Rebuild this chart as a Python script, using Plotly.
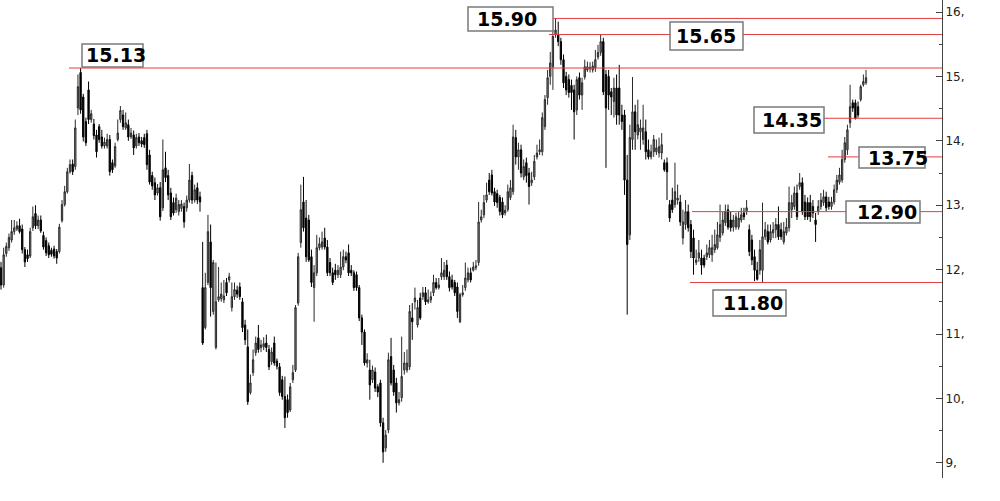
import plotly.graph_objects as go

# ---------------- data (prices) ----------------
opens_a = [12.03, 11.76, 12.25, 12.34, 12.46, 12.59, 12.63, 12.68, 12.63, 12.31, 12.23, 12.21, 12.65, 12.87, 12.68, 12.77, 12.53, 12.45, 12.37, 12.30, 12.32, 12.28, 12.28, 12.76, 13.01, 13.21, 13.52, 13.64, 13.60, 14.51, 15.06,
           14.68, 14.30, 14.79, 14.33, 14.26, 14.09, 14.22, 14.06, 13.92, 13.92, 14.02, 13.66, 13.61, 14.02, 14.33, 14.40, 14.20, 14.25, 14.06, 14.09, 13.92, 14.06, 14.00, 14.05, 14.11,
           13.78, 13.46, 13.35, 13.19, 13.27, 12.96, 13.58, 13.46, 13.19, 13.04, 12.93, 12.90, 12.95, 12.98, 12.96, 13.08, 13.46, 13.08, 13.27, 13.13]
highs_a = [12.12, 12.34, 12.42, 12.56, 12.77, 12.77, 12.75, 12.79, 12.70, 12.35, 12.31, 12.65, 12.98, 13.00, 12.84, 12.84, 12.59, 12.50, 12.42, 12.34, 12.37, 12.32, 12.71, 13.08, 13.30, 13.58, 13.71, 13.71, 14.33, 15.03, 15.13,
           14.73, 14.36, 14.92, 14.48, 14.34, 14.17, 14.26, 14.17, 14.05, 14.11, 14.09, 13.71, 13.97, 14.33, 14.54, 14.48, 14.44, 14.33, 14.20, 14.16, 14.11, 14.12, 14.06, 14.11, 14.17,
           13.86, 13.52, 13.43, 13.33, 13.36, 14.02, 13.83, 13.55, 13.27, 13.12, 13.18, 13.08, 13.08, 13.04, 13.15, 13.64, 13.52, 13.32, 13.35, 13.21]
lows_a = [11.69, 11.72, 12.20, 12.29, 12.42, 12.54, 12.60, 12.56, 12.25, 12.04, 12.12, 12.18, 12.60, 12.63, 12.63, 12.57, 12.31, 12.21, 12.18, 12.20, 12.17, 12.09, 12.25, 12.73, 12.98, 13.18, 13.49, 13.47, 13.55, 14.40, 14.42,
          13.99, 13.92, 14.26, 14.28, 14.02, 13.74, 13.97, 13.88, 13.88, 13.88, 13.46, 13.50, 13.58, 13.99, 14.28, 14.17, 14.17, 14.00, 14.03, 13.78, 13.88, 13.92, 13.90, 13.89, 13.55,
          13.32, 13.24, 13.08, 13.15, 12.76, 12.91, 13.36, 13.08, 12.77, 12.84, 12.88, 12.84, 12.90, 12.65, 12.90, 13.04, 13.02, 13.04, 13.02, 12.90]
closes_a = [11.76, 12.23, 12.36, 12.50, 12.59, 12.65, 12.68, 12.59, 12.31, 12.12, 12.17, 12.59, 12.82, 12.68, 12.77, 12.60, 12.35, 12.26, 12.23, 12.24, 12.21, 12.18, 12.66, 13.01, 13.21, 13.52, 13.63, 13.52, 14.20, 14.84, 14.48,
            14.06, 13.97, 14.33, 14.42, 14.08, 13.83, 14.02, 13.92, 13.98, 14.02, 13.52, 13.55, 13.91, 14.12, 14.47, 14.22, 14.28, 14.06, 14.12, 13.89, 14.05, 13.97, 13.95, 13.94, 13.63,
            13.36, 13.30, 13.16, 13.27, 12.82, 13.55, 13.43, 13.16, 12.82, 12.88, 13.11, 13.01, 13.02, 12.74, 13.08, 13.39, 13.08, 13.24, 13.08, 13.05]

opens_b = [11.72, 11.10, 11.80, 12.43, 11.35, 10.79, 11.53, 11.55, 11.53, 11.80, 11.84, 11.41, 11.58, 11.68, 11.73, 11.50, 11.14, 10.80, 10.09, 10.40,
           10.71, 10.94, 10.79, 10.80, 10.86, 10.76, 10.57, 10.86, 10.58, 10.49, 10.29, 10.03, 9.98, 9.82, 10.29, 10.44, 11.48, 12.42, 13.05, 12.80,
           12.77, 12.20, 11.72, 11.95, 12.34, 12.35, 12.49, 12.35, 12.11, 11.95, 11.99, 11.92, 11.92, 12.04, 12.20, 12.26, 11.99, 11.95, 11.92, 11.72,
           11.25, 11.03, 10.55, 10.44, 10.29, 10.41, 10.18, 10.24, 9.62]
highs_b = [12.43, 11.95, 12.85, 12.70, 12.15, 12.11, 12.04, 11.80, 11.84, 11.87, 11.95, 11.80, 11.80, 11.75, 11.80, 11.56, 11.22, 11.07, 10.37, 10.76,
           10.96, 11.14, 10.91, 10.95, 10.99, 10.83, 10.79, 10.96, 10.62, 10.55, 10.35, 10.34, 10.06, 10.24, 10.52, 11.45, 12.26, 13.32, 13.44, 13.08,
           12.85, 12.31, 12.07, 12.54, 12.50, 12.59, 12.65, 12.46, 12.18, 12.03, 12.09, 12.07, 12.28, 12.31, 12.28, 12.39, 12.07, 11.99, 11.97, 11.76,
           11.30, 11.07, 10.70, 10.60, 10.51, 10.48, 10.22, 10.29, 9.70]
lows_b = [10.83, 11.07, 11.76, 11.27, 11.30, 10.76, 11.50, 11.50, 11.48, 11.59, 11.80, 11.35, 11.53, 11.56, 11.53, 11.03, 10.83, 9.90, 10.06, 10.35,
          10.66, 10.71, 10.72, 10.75, 10.72, 10.44, 10.52, 10.51, 10.45, 10.04, 9.98, 9.54, 9.70, 9.79, 10.24, 10.41, 11.44, 12.34, 12.59, 12.12,
          12.12, 11.73, 11.19, 11.90, 12.30, 12.31, 12.31, 11.90, 11.90, 11.76, 11.84, 11.87, 11.87, 11.99, 12.10, 11.90, 11.90, 11.67, 11.67, 11.20,
          10.83, 10.51, 10.48, 9.98, 10.24, 10.10, 10.02, 9.56, 9.00]
closes_b = [10.86, 11.72, 12.59, 11.72, 12.11, 11.50, 11.58, 11.62, 11.59, 11.64, 11.89, 11.58, 11.69, 11.62, 11.58, 11.10, 10.91, 9.95, 10.24, 10.60,
            10.86, 10.76, 10.83, 10.85, 10.79, 10.49, 10.72, 10.55, 10.50, 10.09, 10.03, 9.70, 9.78, 10.18, 10.40, 11.41, 12.20, 12.93, 12.65, 12.20,
            12.15, 11.80, 11.95, 12.34, 12.40, 12.43, 12.35, 11.95, 11.95, 11.80, 11.92, 11.99, 12.04, 12.20, 12.15, 11.95, 11.95, 11.72, 11.72, 11.25,
            11.03, 10.55, 10.60, 10.21, 10.44, 10.16, 10.10, 9.62, 9.17]

opens_c = [9.23, 9.51, 10.65, 10.44, 10.24, 9.93, 10.01, 10.44, 10.44, 10.49, 11.25, 11.50, 11.14, 11.56, 11.58, 11.64, 11.50, 11.53, 11.64, 11.80,
           11.72, 11.89, 11.89, 12.07, 11.89, 11.84, 11.80, 11.73, 11.19, 11.61, 11.72, 11.84, 11.95, 11.99, 12.03, 12.11, 12.77, 12.85, 13.08, 13.39,
           13.47, 13.21, 13.18, 13.12, 13.05, 12.88, 12.93, 13.12, 13.21, 14.05, 13.75, 13.86, 13.44, 13.66, 13.50, 13.35, 13.44, 13.75, 13.83, 13.83,
           14.22, 14.67, 15.00, 15.15, 15.65,
           15.65, 15.54, 15.26, 15.00, 14.95, 14.86, 14.79, 14.48, 14.98, 14.71, 14.99, 15.10, 15.12, 15.10, 15.13, 15.30, 15.37, 15.54, 15.03, 15.00,
           14.76, 14.61, 14.82, 14.82, 14.40, 14.40, 13.39]
highs_c = [9.51, 10.71, 10.94, 10.52, 10.32, 10.10, 10.96, 10.72, 10.76, 11.45, 11.48, 11.72, 11.53, 11.64, 11.73, 11.73, 11.69, 11.66, 11.92, 11.87,
           11.87, 12.18, 12.12, 12.15, 11.97, 11.92, 11.84, 11.80, 11.64, 11.76, 12.11, 12.03, 12.03, 12.12, 12.15, 13.05, 12.93, 13.16, 13.35, 13.50,
           13.55, 13.27, 13.24, 13.16, 13.12, 13.00, 13.32, 13.39, 14.25, 14.17, 13.97, 13.94, 13.71, 13.74, 13.58, 13.52, 13.78, 13.94, 14.02, 14.44,
           14.71, 15.10, 15.38, 15.72, 15.90,
           15.85, 15.60, 15.34, 15.07, 15.03, 14.95, 14.87, 15.00, 15.06, 14.98, 15.26, 15.23, 15.22, 15.23, 15.41, 15.49, 15.65, 15.60, 15.10, 15.10,
           14.82, 14.98, 15.03, 15.18, 14.56, 14.48, 13.78]
lows_c = [9.17, 9.46, 10.20, 10.04, 9.78, 9.89, 9.95, 10.37, 10.40, 10.44, 10.91, 11.38, 11.10, 11.22, 11.53, 11.45, 11.47, 11.48, 11.59, 11.69,
          11.69, 11.84, 11.84, 11.84, 11.66, 11.69, 11.59, 11.25, 11.17, 11.58, 11.67, 11.80, 11.80, 11.97, 11.99, 12.06, 12.73, 12.80, 13.04, 13.16,
          13.15, 12.99, 12.96, 12.84, 12.80, 12.84, 12.90, 13.08, 13.16, 13.63, 13.55, 13.43, 13.39, 13.35, 13.01, 13.30, 13.39, 13.71, 13.78, 13.77,
          14.17, 14.56, 14.87, 14.79, 15.60,
          15.47, 15.18, 14.82, 14.71, 14.67, 14.48, 14.02, 14.40, 14.64, 14.48, 14.95, 15.07, 15.06, 15.06, 15.07, 15.26, 15.32, 14.71, 13.58, 14.48,
          14.40, 14.36, 14.25, 14.25, 14.17, 13.16, 11.30]
closes_c = [9.43, 10.60, 10.24, 10.10, 9.93, 9.98, 10.34, 10.55, 10.55, 11.35, 11.19, 11.56, 11.41, 11.25, 11.64, 11.50, 11.53, 11.58, 11.80, 11.72,
            11.76, 11.95, 11.99, 11.89, 11.72, 11.73, 11.64, 11.35, 11.61, 11.64, 11.87, 11.95, 11.84, 12.04, 12.06, 12.74, 12.82, 13.04, 13.16, 13.21,
            13.19, 13.05, 13.04, 12.90, 12.85, 12.92, 13.21, 13.27, 14.06, 13.75, 13.86, 13.50, 13.60, 13.46, 13.29, 13.39, 13.68, 13.81, 13.86, 14.36,
            14.64, 14.98, 15.21, 15.62, 15.72,
            15.54, 15.26, 14.90, 14.79, 14.75, 14.75, 14.45, 14.95, 14.71, 14.90, 15.15, 15.15, 15.14, 15.16, 15.26, 15.37, 15.54, 14.76, 14.51, 14.71,
            14.68, 14.82, 14.40, 14.40, 14.30, 13.39, 12.39]

opens_d = [12.54, 14.02, 14.45, 14.09, 14.14, 14.02, 14.14, 13.86, 13.75, 13.83, 13.83, 13.81, 13.81, 13.66, 13.66, 13.01, 13.08, 13.01, 13.08, 13.05,
           12.49, 12.70, 12.90, 12.70, 12.49, 12.11, 12.18, 12.18, 12.18, 12.20, 12.23, 12.23, 12.31, 12.34, 12.50, 12.57, 12.73, 12.93, 12.77, 12.66,
           12.66, 12.66, 12.77, 12.88, 12.90, 12.62, 12.46, 12.20, 11.99, 11.99, 11.99,
           12.51, 12.59, 12.46, 12.57, 12.62, 12.70, 12.62, 12.43, 12.57, 12.65, 12.93, 12.98, 13.19, 13.29, 13.35, 13.05, 13.04, 13.04,
           12.98, 12.77, 12.90, 12.98, 13.04, 13.13, 13.05, 12.98, 13.05, 13.24, 13.36, 13.39, 13.71, 13.86, 14.28, 14.59, 14.59, 14.53, 14.64, 14.87, 14.90]
highs_d = [14.25, 14.99, 14.56, 14.64, 14.33, 14.56, 14.33, 14.02, 13.94, 14.09, 14.02, 14.05, 14.12, 13.71, 13.74, 13.08, 13.27, 13.66, 13.32, 13.16,
           12.93, 13.08, 13.01, 12.77, 12.62, 12.31, 12.46, 12.31, 12.23, 12.39, 12.46, 12.54, 12.62, 12.74, 13.01, 12.90, 13.01, 13.01, 12.90, 12.85,
           12.88, 12.90, 12.96, 12.96, 13.08, 12.70, 12.54, 12.31, 12.12, 12.46, 13.04,
           12.74, 12.70, 12.70, 12.74, 12.80, 12.98, 12.73, 12.74, 12.80, 13.29, 13.16, 13.29, 13.32, 13.50, 13.43, 13.16, 13.12, 13.16,
           13.08, 12.88, 13.08, 13.19, 13.24, 13.21, 13.13, 13.13, 13.32, 13.47, 13.58, 13.86, 14.06, 14.25, 14.87, 14.64, 14.64, 14.61, 14.87, 15.03, 15.10]
lows_d = [12.46, 13.86, 13.86, 14.02, 13.86, 13.94, 13.71, 13.71, 13.71, 13.75, 13.78, 13.74, 13.71, 13.52, 13.08, 12.74, 12.88, 12.96, 13.01, 12.68,
          12.39, 12.62, 12.59, 12.18, 11.92, 12.07, 12.12, 11.92, 12.03, 12.15, 12.18, 12.12, 12.26, 12.31, 12.43, 12.53, 12.68, 12.62, 12.59, 12.59,
          12.62, 12.62, 12.73, 12.77, 12.85, 12.21, 12.07, 11.82, 11.83, 11.92, 11.80,
          12.46, 12.39, 12.42, 12.49, 12.49, 12.46, 12.46, 12.39, 12.53, 12.59, 12.80, 12.93, 12.77, 13.24, 12.85, 12.77, 12.77, 12.74,
          12.80, 12.43, 12.85, 12.93, 12.99, 12.91, 12.93, 12.93, 13.01, 13.19, 13.32, 13.35, 13.66, 13.78, 14.20, 14.45, 14.33, 14.36, 14.61, 14.84, 14.87]
closes_d = [14.05, 14.45, 14.14, 14.25, 14.20, 14.20, 13.83, 13.75, 13.83, 14.02, 13.89, 13.91, 13.94, 13.55, 13.52, 12.80, 12.93, 13.21, 13.11, 12.74,
            12.74, 12.90, 12.65, 12.28, 12.18, 12.15, 12.26, 12.07, 12.07, 12.26, 12.34, 12.34, 12.39, 12.54, 12.70, 12.77, 12.90, 12.66, 12.65, 12.77,
            12.82, 12.80, 12.85, 12.82, 12.96, 12.28, 12.15, 11.99, 11.85, 12.31, 12.51,
            12.62, 12.43, 12.59, 12.62, 12.70, 12.51, 12.51, 12.59, 12.66, 13.04, 13.04, 13.19, 12.82, 13.35, 12.90, 12.82, 12.82, 12.82,
            12.88, 12.70, 12.98, 13.08, 13.13, 12.96, 12.98, 13.05, 13.24, 13.39, 13.47, 13.71, 13.97, 14.17, 14.53, 14.51, 14.35, 14.40, 14.84, 14.92, 14.98]

opens = opens_a + opens_b + opens_c + opens_d
highs = highs_a + highs_b + highs_c + highs_d
lows = lows_a + lows_b + lows_c + lows_d
closes = closes_a + closes_b + closes_c + closes_d
sessions = list(range(len(closes)))

levels = [15.90, 15.65, 15.13, 14.35, 13.75, 12.90, 11.80]
level_labels = ["15.90", "15.65", "15.13", "14.35", "13.75", "12.90", "11.80"]
y_ticks = [9, 10, 11, 12, 13, 14, 15, 16]

# ---------------- layout helpers (pixel geometry of the plot area) ----------------
PW, PH = 942.0, 478.0
STEP = 865.0 / (len(closes) - 1)   # pixels per session
def px(x):
    return x / PW
def py(y):
    return 1 - y / PH

# where each level line starts (px), label box (left, top, w, h) and text left (px)
line_start = [553, 549, 69, 824, 828, 692, 690]
boxes = [(468, 7, 85, 24), (670, 22, 73, 28), (82, 44, 61, 23), (754, 107, 70, 26),
         (859, 147, 66, 21), (846, 201, 74, 22), (713, 290, 73, 26)]
text_left = [475, 674, 84, 760, 866, 855, 721]

fig = go.Figure()
fig.add_trace(go.Candlestick(
    x=sessions, open=opens, high=highs, low=lows, close=closes,
    increasing=dict(line=dict(color="#2a2a2a", width=1), fillcolor="#8c8c8c"),
    decreasing=dict(line=dict(color="#000000", width=1), fillcolor="#000000"),
    whiskerwidth=0, hoverinfo="skip", showlegend=False,
))

shapes = []
for lv, xs in zip(levels, line_start):
    shapes.append(dict(type="line", xref="paper", yref="y", x0=px(xs), x1=1, y0=lv, y1=lv,
                       line=dict(color="#e43d3d", width=1), layer="above"))
for (bl, bt, bw, bh) in boxes:
    shapes.append(dict(type="rect", xref="paper", yref="paper",
                       x0=px(bl), x1=px(bl + bw), y0=py(bt + bh), y1=py(bt),
                       fillcolor="white", line=dict(color="#7a7a7a", width=1.5), layer="above"))

annotations = []
for lab, (bl, bt, bw, bh), tl in zip(level_labels, boxes, text_left):
    annotations.append(dict(text="<b>%s</b>" % lab, xref="paper", yref="paper",
                            x=px(tl), y=py(bt + bh / 2.0), xanchor="left", yanchor="middle",
                            showarrow=False, font=dict(family="DejaVu Sans", size=19, color="#000000")))

ymax = 16 + 12 / 64.4
ymin = 16 - (PH - 12) / 64.4
xmin = -1 / STEP
xmax = xmin + PW / STEP

fig.update_layout(
    width=1000, height=501,
    margin=dict(l=0, r=58, t=0, b=23),
    paper_bgcolor="white", plot_bgcolor="white",
    showlegend=False, shapes=shapes, annotations=annotations,
    xaxis=dict(range=[xmin, xmax], visible=False, rangeslider=dict(visible=False), showgrid=False),
    yaxis=dict(range=[ymin, ymax], side="right", tickmode="array", tickvals=y_ticks,
               ticktext=["%d," % t for t in y_ticks],
               ticks="inside", ticklen=6, tickwidth=1, tickcolor="#444444",
               showline=True, linecolor="#444444", linewidth=1, showgrid=False, zeroline=False,
               tickfont=dict(family="DejaVu Sans", size=12, color="#222222"),
               minor=dict(tickvals=[t + 0.5 for t in y_ticks[:-1]], ticks="inside", ticklen=3,
                          tickcolor="#444444", showgrid=False)),
)

fig.write_html("out.html", config={"displayModeBar": False},
               post_script="document.body.style.margin='0px';")
